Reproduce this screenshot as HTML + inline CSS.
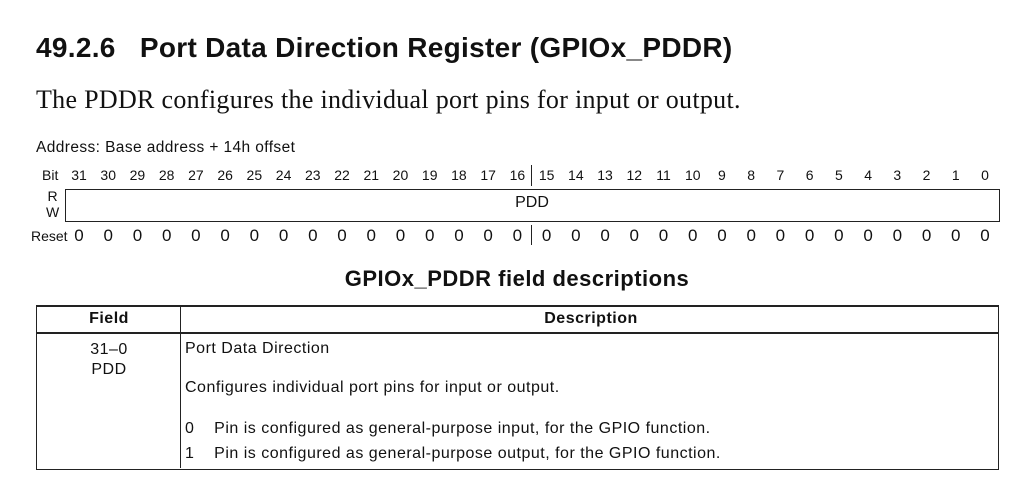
<!DOCTYPE html>
<html><head><meta charset="utf-8"><style>
body{margin:0;width:1033px;height:502px;background:#fff;position:relative;font-family:"Liberation Sans",sans-serif;color:#111;overflow:hidden}
.a{position:absolute;white-space:nowrap}
.s{font-size:16px;letter-spacing:0.5px}
.c{transform:translateX(-50%)}
</style></head><body>
<div class="a" style="left:36px;top:32px;font-size:28px;font-weight:bold;letter-spacing:0.3px">49.2.6&nbsp;&nbsp; Port Data Direction Register (GPIOx_PDDR)</div>
<div class="a" style="left:36px;top:85px;font-size:26px;font-family:'Liberation Serif',serif;letter-spacing:0.3px">The PDDR configures the individual port pins for input or output.</div>
<div class="a s" style="left:36px;top:139px;font-size:15.5px;letter-spacing:0.4px">Address: Base address + 14h offset</div>
<div class="a" style="left:42px;top:167px;font-size:14px">Bit</div>
<div class="a" style="left:46px;top:188px;font-size:14px;line-height:16px;text-align:center">R<br>W</div>
<div class="a" style="left:31px;top:228px;font-size:14px">Reset</div>
<div class="a" style="left:65px;top:189px;width:933px;height:31px;border:1px solid #222"></div>
<div class="a" style="left:531px;top:165px;width:1px;height:21px;background:#222"></div>
<div class="a" style="left:531px;top:225px;width:1px;height:20px;background:#222"></div>
<div class="a" style="left:532px;top:194px;font-size:16px;transform:translateX(-50%)">PDD</div>
<div id="bits"></div>
<div class="a" style="left:517px;top:266px;font-size:22px;font-weight:bold;letter-spacing:0.5px;transform:translateX(-50%)">GPIOx_PDDR field descriptions</div>
<div class="a" style="left:36px;top:305px;width:961px;height:162px;border:1px solid #222;border-top:2px solid #222"></div>
<div class="a" style="left:36px;top:332px;width:963px;height:2px;background:#222"></div>
<div class="a" style="left:180px;top:305px;width:1px;height:163px;background:#222"></div>
<div class="a s" style="left:109px;top:310px;font-weight:bold;transform:translateX(-50%)">Field</div>
<div class="a s" style="left:591px;top:310px;font-weight:bold;transform:translateX(-50%)">Description</div>
<div class="a s" style="left:109px;top:340px;transform:translateX(-50%);text-align:center;line-height:20px">31–0<br>PDD</div>
<div class="a s" style="left:185px;top:340px">Port Data Direction</div>
<div class="a s" style="left:185px;top:379px">Configures individual port pins for input or output.</div>
<div class="a s" style="left:185px;top:420px">0&nbsp;&nbsp;&nbsp; Pin is configured as general-purpose input, for the GPIO function.</div>
<div class="a s" style="left:185px;top:445px">1&nbsp;&nbsp;&nbsp; Pin is configured as general-purpose output, for the GPIO function.</div>
<script>
const bitNumbers=[31,30,29,28,27,26,25,24,23,22,21,20,19,18,17,16,15,14,13,12,11,10,9,8,7,6,5,4,3,2,1,0];
const resetValues=[0,0,0,0,0,0,0,0,0,0,0,0,0,0,0,0,0,0,0,0,0,0,0,0,0,0,0,0,0,0,0,0];
const host=document.getElementById('bits');
function xOf(i){return 79+i*(985-79)/31;}
bitNumbers.forEach((b,i)=>{
  const d=document.createElement('div');
  d.className='a c';d.style.left=xOf(i)+'px';d.style.top='167px';d.style.fontSize='14px';d.textContent=b;
  
  
  host.appendChild(d);
  const r=document.createElement('div');
  r.className='a c';r.style.left=xOf(i)+'px';r.style.top='226px';r.style.fontSize='17px';r.textContent=resetValues[i];
  
  
  host.appendChild(r);
});
</script>
</body></html>
